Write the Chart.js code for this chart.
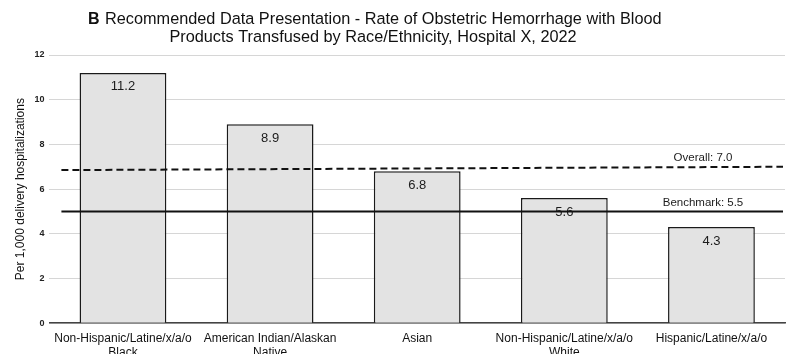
<!DOCTYPE html>
<html>
<head>
<meta charset="utf-8">
<script src="https://cdn.jsdelivr.net/npm/chart.js@4/dist/chart.umd.min.js"></script>
<style>
html,body{margin:0;padding:0;background:#fff;overflow:hidden}
#wrap{width:789px;height:368px;position:relative}
</style>
</head>
<body>
<div id="wrap"><canvas id="chart"></canvas></div>
<script>

const categories = [
["Non-Hispanic/Latine/x/a/o","Black"],
["American Indian/Alaskan","Native"],
"Asian",
["Non-Hispanic/Latine/x/a/o","White"],
"Hispanic/Latine/x/a/o"
]

const rates = [11.2, 8.9, 6.8, 5.6, 4.3]

const yTicks = [0, 2, 4, 6, 8, 10, 12]

// reference lines: label, value at left end, value at right end
const refLabels = ["Overall: 7.0", "Benchmark: 5.5"]
const refStart = [6.85, 5.0]
const refEnd = [7.0, 5.0]
const refDashed = [true, false]

const titleLines = [
"Recommended Data Presentation - Rate of Obstetric Hemorrhage with Blood",
"Products Transfused by Race/Ethnicity, Hospital X, 2022"
]

const FONT = "'Liberation Sans', Arial, sans-serif"

const extras = {
id: "extras",
afterDatasetsDraw(chart){
const ctx = chart.ctx
const ys = chart.scales.y
const area = chart.chartArea
const meta = chart.getDatasetMeta(0)

ctx.save()

// value labels inside bars
ctx.fillStyle = "#1c1c1c"
ctx.font = "13px " + FONT
ctx.textAlign = "center"
ctx.textBaseline = "middle"
meta.data.forEach((bar, i)=>{
ctx.fillText(rates[i].toFixed(1), bar.x, bar.y + 14)
})

// reference lines
refLabels.forEach((lab, i)=>{
const x0 = area.left + 12
const x1 = area.right - 2
ctx.strokeStyle = "#111"
ctx.lineWidth = 2
ctx.setLineDash(refDashed[i] ? [7, 4] : [])
ctx.beginPath()
ctx.moveTo(x0, ys.getPixelForValue(refStart[i]))
ctx.lineTo(x1, ys.getPixelForValue(refEnd[i]))
ctx.stroke()
ctx.setLineDash([])
ctx.fillStyle = "#1c1c1c"
ctx.font = "11.5px " + FONT
ctx.fillText(lab, 703, ys.getPixelForValue(refEnd[i]) - 9)
})

ctx.restore()
},
afterDraw(chart){
const ctx = chart.ctx
ctx.save()
ctx.fillStyle = "#111"
ctx.textBaseline = "middle"
ctx.textAlign = "left"
ctx.font = "bold 16px " + FONT
ctx.fillText("B", 88, 20)
ctx.font = "16.3px " + FONT
ctx.fillText(titleLines[0], 105, 20)
ctx.textAlign = "center"
ctx.fillText(titleLines[1], 373, 38)
ctx.restore()
}
}

new Chart(document.getElementById("chart"), {
type: "bar",
data: {
labels: categories,
datasets: [{
data: rates,
backgroundColor: "#e3e3e3",
borderColor: "#1a1a1a",
borderWidth: 1.5,
barPercentage: 0.59,
categoryPercentage: 1
}]
},
options: {
responsive: true,
maintainAspectRatio: false,
animation: false,
layout: { padding: { top: 55, left: 9, right: 4, bottom: 0 } },
plugins: {
legend: { display: false },
tooltip: { enabled: false }
},
scales: {
x: {
grid: { display: false, drawTicks: false },
border: { display: true, color: "#444", width: 1.5 },
ticks: {
color: "#111",
font: { family: FONT, size: 12 },
padding: 8,
maxRotation: 0,
autoSkip: false
}
},
y: {
min: 0,
max: 12,
afterBuildTicks(axis){
axis.ticks = yTicks.map(v=>({ value: v }))
},
grid: { color: "#d6d6d6", lineWidth: 1, drawTicks: false },
border: { display: false },
ticks: {
color: "#222",
font: { family: FONT, size: 9, weight: "bold" },
padding: 5
},
title: {
display: true,
text: "Per 1,000 delivery hospitalizations",
color: "#111",
font: { family: FONT, size: 12 },
padding: { top: 4, bottom: 2 }
}
}
}
},
plugins: [extras]
})

</script>
</body>
</html>
